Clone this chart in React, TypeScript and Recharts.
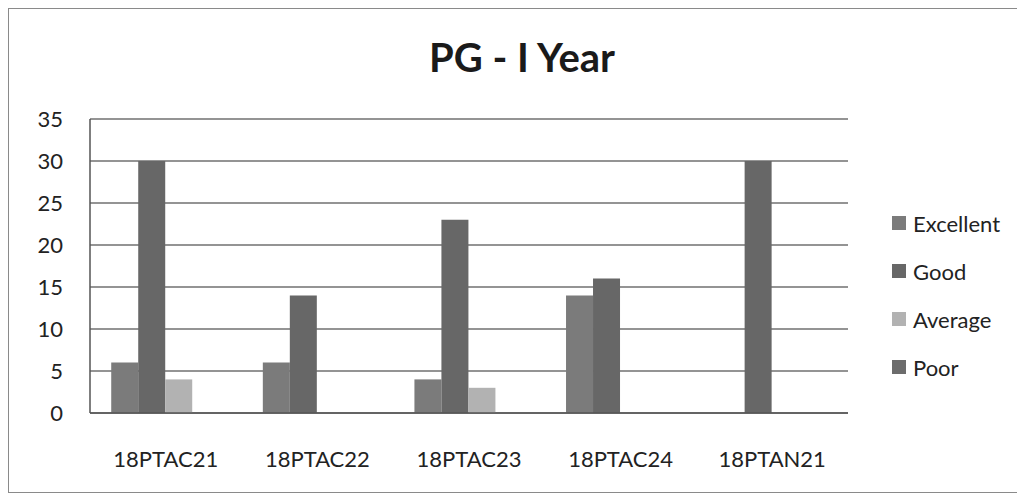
import React from "react";
import {
  BarChart,
  Bar,
  XAxis,
  YAxis,
  CartesianGrid,
} from "recharts";

const categories = ["18PTAC21", "18PTAC22", "18PTAC23", "18PTAC24", "18PTAN21"];
const excellent = [6, 6, 4, 14, 0];
const good = [30, 14, 23, 16, 30];
const average = [4, 0, 3, 0, 0];
const poor = [0, 0, 0, 0, 0];
const yTicks = [0, 5, 10, 15, 20, 25, 30, 35];

const SERIES = [
  { key: "Excellent", color: "#7b7b7b" },
  { key: "Good", color: "#676767" },
  { key: "Average", color: "#b2b2b2" },
  { key: "Poor", color: "#6c6c6c" },
];

const data = categories.map((name, i) => ({
  name,
  Excellent: excellent[i],
  Good: good[i],
  Average: average[i],
  Poor: poor[i],
}));

const FONT = "Lato, 'Noto Sans', sans-serif";

const LegendBox = () => (
  <div
    style={{
      position: "absolute",
      left: 883,
      top: 190,
      width: 140,
      fontFamily: FONT,
      fontSize: 22,
      color: "#222",
    }}
  >
    {SERIES.map((s) => (
      <div
        key={s.key}
        style={{ height: 48, display: "flex", alignItems: "center" }}
      >
        <span
          style={{
            display: "inline-block",
            width: 14,
            height: 14,
            background: s.color,
            marginRight: 7,
          }}
        />
        <span>{s.key}</span>
      </div>
    ))}
  </div>
);

export default function App() {
  return (
    <div
      style={{
        position: "relative",
        width: 1040,
        height: 483,
        borderLeft: "1px solid #8a8a8a",
        borderTop: "1px solid #8a8a8a",
        borderBottom: "1px solid #8a8a8a",
        background: "#fff",
      }}
    >
      <div
        style={{
          position: "absolute",
          left: 363,
          top: 28,
          width: 300,
          textAlign: "center",
          fontFamily: FONT,
          fontWeight: 700,
          fontSize: 40,
          lineHeight: "40px",
          color: "#1a1a1a",
        }}
      >
        PG - I Year
      </div>
      <BarChart
        width={1016}
        height={483}
        data={data}
        margin={{ top: 110, right: 177, bottom: 19, left: 0 }}
        barCategoryGap="14%"
        barGap={0}
        style={{ position: "absolute", left: 0, top: 0 }}
      >
        <CartesianGrid
          vertical={false}
          stroke="#707070"
          strokeWidth={1.5}
        />
        <XAxis
          dataKey="name"
          height={60}
          tickLine={false}
          tickSize={0}
          tickMargin={38}
          axisLine={{ stroke: "#555", strokeWidth: 1.5 }}
          tick={{ fill: "#222", fontSize: 22, fontFamily: FONT }}
        />
        <YAxis
          width={81}
          domain={[0, 35]}
          ticks={yTicks}
          interval={0}
          tickLine={false}
          tickSize={0}
          tickMargin={27}
          axisLine={{ stroke: "#555", strokeWidth: 1.5 }}
          tick={{ fill: "#222", fontSize: 22, fontFamily: FONT }}
        />
        {SERIES.map((s) => (
          <Bar
            key={s.key}
            dataKey={s.key}
            fill={s.color}
            isAnimationActive={false}
          />
        ))}
      </BarChart>
      <LegendBox />
    </div>
  );
}
